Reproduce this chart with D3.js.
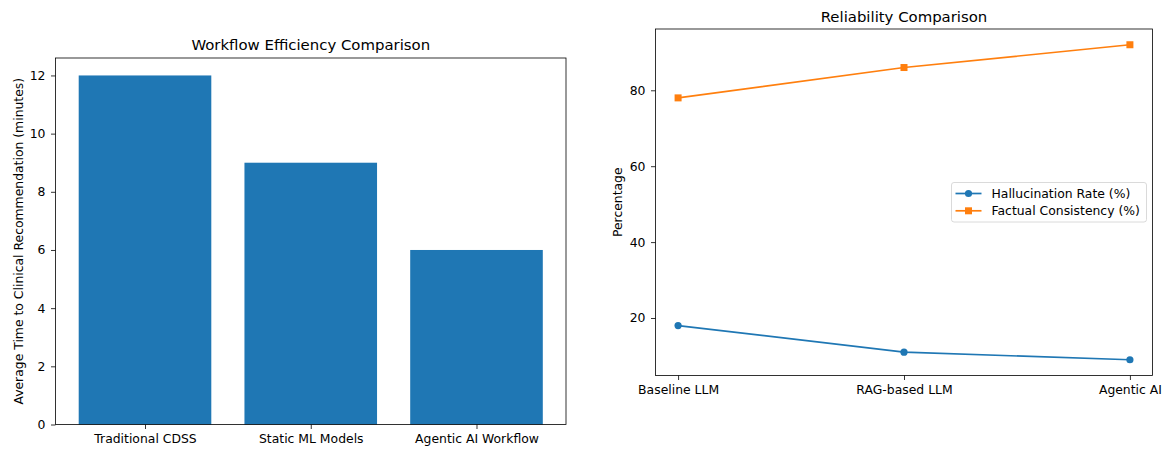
<!DOCTYPE html>
<html><head><meta charset="utf-8">
<script src="https://cdn.jsdelivr.net/npm/d3@7"></script>
<style>body{margin:0;background:#fff}svg{display:block;font-family:"DejaVu Sans",sans-serif}</style>
</head><body><svg id="c" width="1164" height="450"></svg>
<script>
const barCategories = ["Traditional CDSS", "Static ML Models", "Agentic AI Workflow"];
const barValues = [12, 9, 6];
const barTicks = [0, 2, 4, 6, 8, 10, 12];
const lineCategories = ["Baseline LLM", "RAG-based LLM", "Agentic AI"];
const hallucination = [18, 11, 9];
const factual = [78, 86, 92];
const lineTicks = [20, 40, 60, 80];
const seriesNames = ["Hallucination Rate (%)", "Factual Consistency (%)"];

const svg = d3.select("#c");
const blue = "#1f77b4", orange = "#ff7f0e";
const fs = 12.4, tfs = 14.9;

function styleAxis(g){
  g.selectAll("path").remove();
  g.selectAll("line").attr("stroke","#000").attr("stroke-width",0.8);
  g.selectAll("text").attr("font-size",fs).attr("fill","#000").attr("font-family","DejaVu Sans");
}

// Left chart
const L = {x0:55.5, x1:566, y0:58, y1:424.5};
const xb = d3.scaleLinear().domain([-0.54, 2.54]).range([L.x0, L.x1]);
const yb = d3.scaleLinear().domain([0, 12.6]).range([L.y1, L.y0]);
const gL = svg.append("g");
gL.selectAll("rect.bar").data(barValues).enter().append("rect")
  .attr("x",(d,i)=>xb(i-0.4)).attr("width",(d,i)=>xb(i+0.4)-xb(i-0.4))
  .attr("y",d=>yb(d)).attr("height",d=>yb(0)-yb(d)).attr("fill",blue);
gL.append("g").attr("transform",`translate(0,${L.y1})`)
  .call(d3.axisBottom(xb).tickValues([0,1,2]).tickFormat(i=>barCategories[i]).tickSize(4.5).tickPadding(5.5))
  .call(styleAxis);
gL.append("g").attr("transform",`translate(${L.x0},0)`)
  .call(d3.axisLeft(yb).tickValues(barTicks).tickSize(4.5).tickPadding(5.5))
  .call(styleAxis);
gL.append("rect").attr("x",L.x0).attr("y",L.y0).attr("width",L.x1-L.x0).attr("height",L.y1-L.y0)
  .attr("fill","none").attr("stroke","#000").attr("stroke-width",0.8);
gL.append("text").attr("x",(L.x0+L.x1)/2).attr("y",L.y0-8).attr("text-anchor","middle")
  .attr("font-size",tfs).text("Workflow Efficiency Comparison");
gL.append("text").attr("transform",`translate(22.5,${(L.y0+L.y1)/2}) rotate(-90)`).attr("text-anchor","middle")
  .attr("font-size",fs).text("Average Time to Clinical Recommendation (minutes)");

// Right chart
const R = {x0:655.5, x1:1152.5, y0:29, y1:375.5};
const xl = d3.scaleLinear().domain([-0.1, 2.1]).range([R.x0, R.x1]);
const yl = d3.scaleLinear().domain([4.85, 96.15]).range([R.y1, R.y0]);
const gR = svg.append("g");
gR.append("g").attr("transform",`translate(0,${R.y1})`)
  .call(d3.axisBottom(xl).tickValues([0,1,2]).tickFormat(i=>lineCategories[i]).tickSize(4.5).tickPadding(5.5))
  .call(styleAxis);
gR.append("g").attr("transform",`translate(${R.x0},0)`)
  .call(d3.axisLeft(yl).tickValues(lineTicks).tickSize(4.5).tickPadding(5.5))
  .call(styleAxis);
const line = d3.line().x((d,i)=>xl(i)).y(d=>yl(d));
gR.append("path").attr("d",line(hallucination)).attr("fill","none").attr("stroke",blue).attr("stroke-width",1.7);
gR.selectAll("circle.h").data(hallucination).enter().append("circle")
  .attr("cx",(d,i)=>xl(i)).attr("cy",d=>yl(d)).attr("r",3.6).attr("fill",blue);
gR.append("path").attr("d",line(factual)).attr("fill","none").attr("stroke",orange).attr("stroke-width",1.7);
gR.selectAll("rect.f").data(factual).enter().append("rect")
  .attr("x",(d,i)=>xl(i)-3.5).attr("y",d=>yl(d)-3.5).attr("width",7).attr("height",7).attr("fill",orange);
gR.append("rect").attr("x",R.x0).attr("y",R.y0).attr("width",R.x1-R.x0).attr("height",R.y1-R.y0)
  .attr("fill","none").attr("stroke","#000").attr("stroke-width",0.8);
gR.append("text").attr("x",(R.x0+R.x1)/2).attr("y",R.y0-7).attr("text-anchor","middle")
  .attr("font-size",tfs).text("Reliability Comparison");
gR.append("text").attr("transform",`translate(622,${(R.y0+R.y1)/2}) rotate(-90)`).attr("text-anchor","middle")
  .attr("font-size",fs).text("Percentage");

// Legend
const lg = gR.append("g");
lg.append("rect").attr("x",951.5).attr("y",182.5).attr("width",195).attr("height",39.5).attr("rx",2.5)
  .attr("fill","#fff").attr("fill-opacity",0.8).attr("stroke","#d0d0d0").attr("stroke-width",0.8);
[[blue,"c"],[orange,"s"]].forEach(([col,m],i)=>{
  const y = 193.5 + i*17.3;
  lg.append("line").attr("x1",955.5).attr("x2",981.5).attr("y1",y).attr("y2",y).attr("stroke",col).attr("stroke-width",1.7);
  if(m==="c") lg.append("circle").attr("cx",968.5).attr("cy",y).attr("r",3.6).attr("fill",col);
  else lg.append("rect").attr("x",965).attr("y",y-3.5).attr("width",7).attr("height",7).attr("fill",col);
  lg.append("text").attr("x",991.5).attr("y",y).attr("dy","0.35em").attr("font-size",fs).text(seriesNames[i]);
});
</script></body></html>
